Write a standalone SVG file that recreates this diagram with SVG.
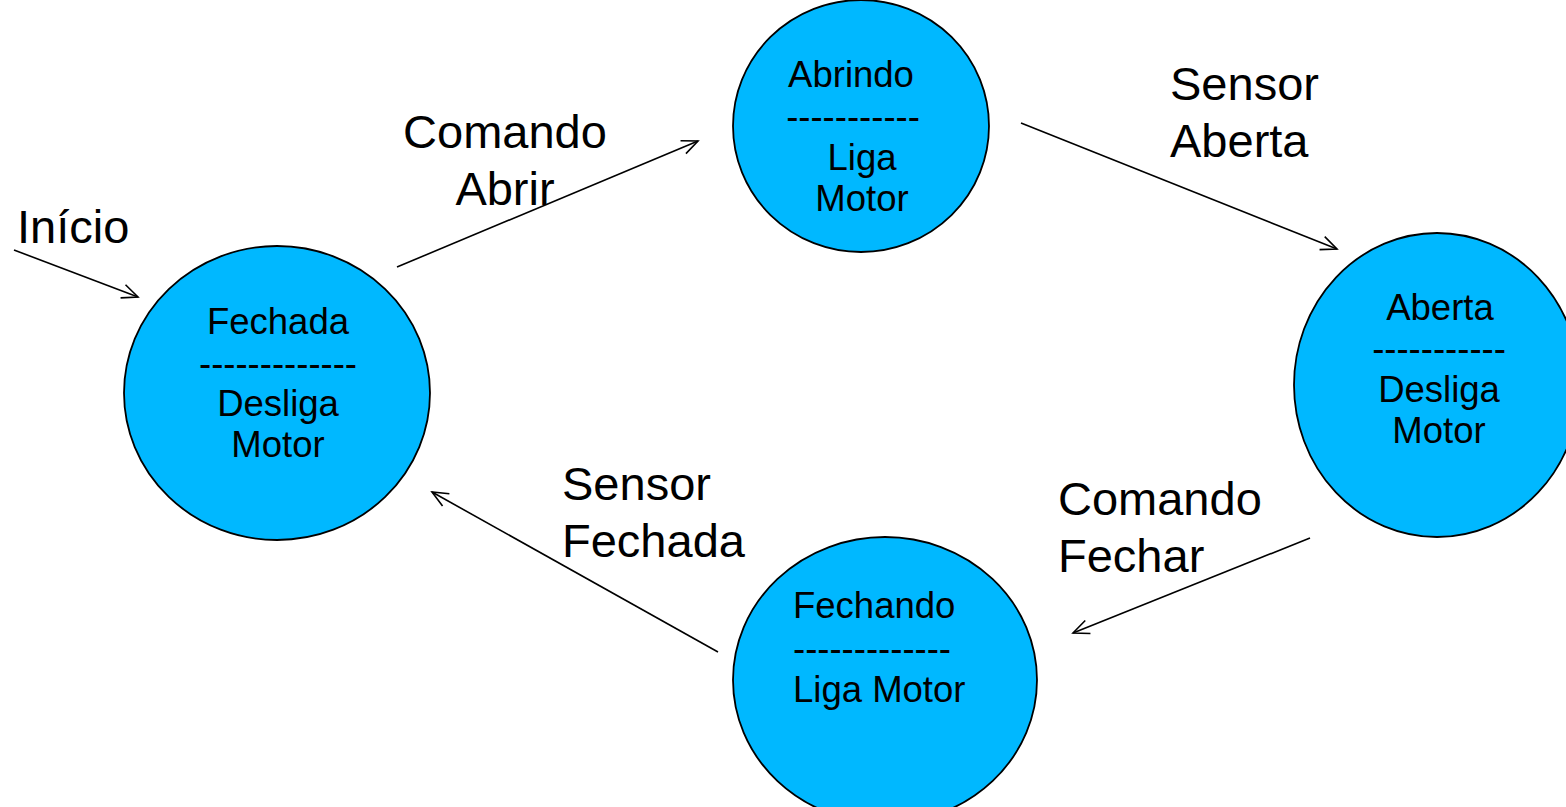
<svg xmlns="http://www.w3.org/2000/svg" width="1566" height="807" viewBox="0 0 1566 807">
<defs>
<style>
.st{fill:#00b8ff;stroke:#000;stroke-width:1.8}
.nt{font-family:"Liberation Sans",Arial,sans-serif;font-size:36.5px;fill:#000;text-anchor:middle}
.lb{font-family:"Liberation Sans",Arial,sans-serif;font-size:47px;fill:#000}
.cn{stroke:#000;stroke-width:1.6;fill:none}
</style>
<marker id="ah" viewBox="0 0 20 20" refX="18" refY="10" markerWidth="20" markerHeight="20" markerUnits="userSpaceOnUse" orient="auto">
<path d="M2,3 L18,10 L2,17" fill="none" stroke="#000" stroke-width="1.6"/>
</marker>
</defs>
<rect width="1566" height="807" fill="#fff"/>
<g id="fechada">
<ellipse class="st" cx="277" cy="393" rx="153" ry="147"/>
<text class="nt" x="278" y="334">Fechada</text>
<text class="nt" x="278" y="376">-------------</text>
<text class="nt" x="278" y="416">Desliga</text>
<text class="nt" x="278" y="457">Motor</text>
</g>
<g id="abrindo">
<ellipse class="st" cx="861" cy="126" rx="128" ry="126"/>
<text class="nt" x="851" y="87">Abrindo</text>
<text class="nt" x="853" y="129">-----------</text>
<text class="nt" x="862" y="170">Liga</text>
<text class="nt" x="862" y="211">Motor</text>
</g>
<g id="aberta">
<ellipse class="st" cx="1437" cy="385" rx="143" ry="152"/>
<text class="nt" x="1440" y="320">Aberta</text>
<text class="nt" x="1439" y="361">-----------</text>
<text class="nt" x="1439" y="402">Desliga</text>
<text class="nt" x="1439" y="443">Motor</text>
</g>
<g id="fechando">
<ellipse class="st" cx="885" cy="680" rx="152" ry="143"/>
<text class="nt" x="793" y="618" style="text-anchor:start">Fechando</text>
<text class="nt" x="793" y="661" style="text-anchor:start">-------------</text>
<text class="nt" x="793" y="702" style="text-anchor:start">Liga Motor</text>
</g>
<g id="connectors">
<line class="cn" x1="14" y1="250" x2="138" y2="297" marker-end="url(#ah)"/>
<line class="cn" x1="397" y1="267" x2="698" y2="141" marker-end="url(#ah)"/>
<line class="cn" x1="1021" y1="123" x2="1337" y2="249" marker-end="url(#ah)"/>
<line class="cn" x1="1310" y1="538" x2="1073" y2="633" marker-end="url(#ah)"/>
<line class="cn" x1="718" y1="652" x2="432" y2="492" marker-end="url(#ah)"/>
</g>
<g id="labels">
<text class="lb" x="17" y="243">Início</text>
<text class="lb" x="505" y="148" text-anchor="middle">Comando</text>
<text class="lb" x="505" y="205" text-anchor="middle">Abrir</text>
<text class="lb" x="1170" y="100">Sensor</text>
<text class="lb" x="1170" y="157">Aberta</text>
<text class="lb" x="1058" y="515">Comando</text>
<text class="lb" x="1058" y="572">Fechar</text>
<text class="lb" x="562" y="500">Sensor</text>
<text class="lb" x="562" y="557">Fechada</text>
</g>
</svg>
